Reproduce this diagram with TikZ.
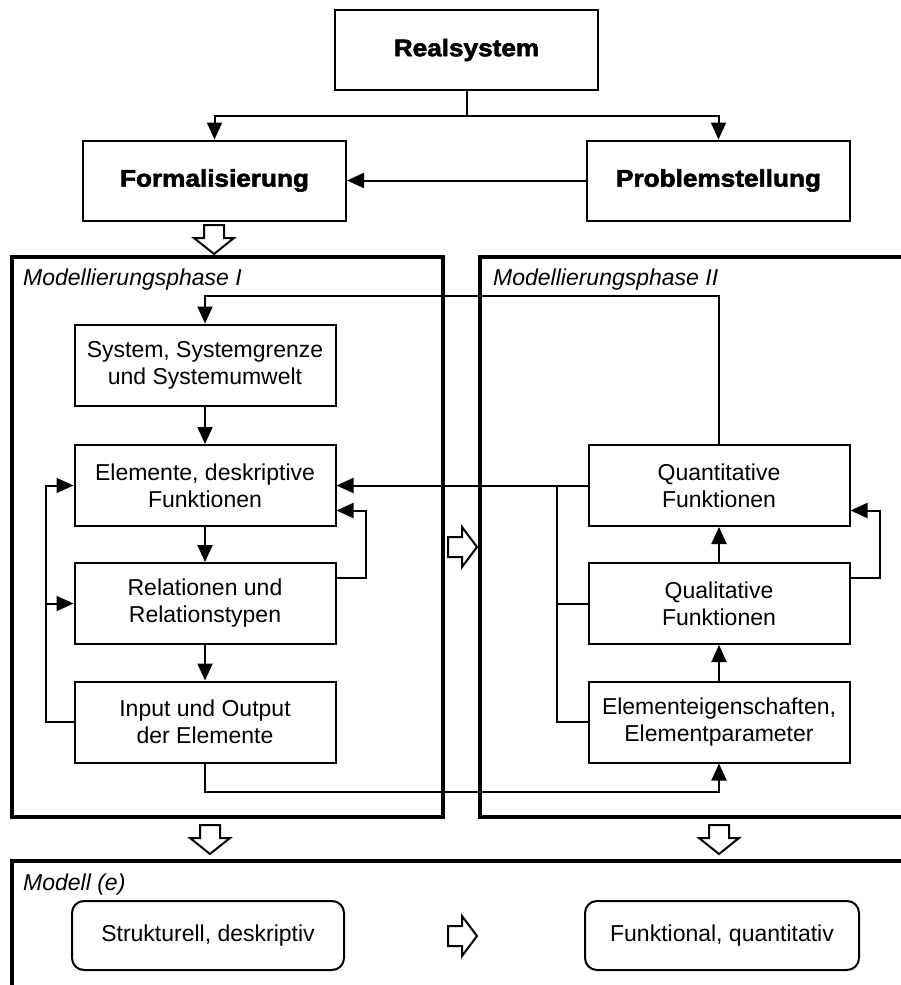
\documentclass[tikz,border=0pt]{standalone}
\usepackage{fontspec}
\setmainfont{Liberation Sans}
\newfontfamily\titlefont[FakeStretch=1.09,FakeBold=2.4]{Liberation Sans}
\usetikzlibrary{arrows.meta}
\begin{document}
\begin{tikzpicture}[x=1pt,y=-1pt,
  conn/.style={line width=2pt,-{Triangle[length=17pt,width=15pt]}},
  plain/.style={line width=2pt},
  titlebox/.style={draw,line width=2pt,inner sep=0pt,minimum width=263pt,minimum height=80pt,
    font=\titlefont\bfseries\fontsize{24}{28}\selectfont},
  stepbox/.style={draw,line width=2pt,inner sep=0pt,minimum width=261pt,minimum height=81pt,
    align=center,font=\fontsize{23}{27}\selectfont},
  modbox/.style={draw,line width=2pt,rounded corners=12pt,inner sep=0pt,minimum height=69pt,
    font=\fontsize{23}{27}\selectfont},
  phase/.style={line width=3.5pt},
  phaselabel/.style={anchor=base west,inner sep=0pt,font=\itshape\fontsize{23}{27}\selectfont},
  hollow/.style={draw,line width=2pt,fill=white,line join=miter},
  hdown/.pic={\path[hollow] (-10,0) -- (10,0) -- (10,13) -- (20,13) -- (0,29) -- (-20,13) -- (-10,13) -- cycle;},
  hright/.pic={\path[hollow] (0,-10) -- (14,-10) -- (14,-20) -- (29,0) -- (14,20) -- (14,10) -- (0,10) -- cycle;}
]
\useasboundingbox (0,0) rectangle (901,985);
\clip (0,0) rectangle (901,985);

% top level
\node[titlebox] (real) at (466.5,50) {Realsystem};
\node[titlebox] (form) at (214.5,180.5) {Formalisierung};
\node[titlebox] (prob) at (718.5,180.5) {Problemstellung};

\draw[plain] (real.south) -- ++(0,25) coordinate (split);
\draw[conn] (split) -| (form.north);
\draw[conn] (split) -| (prob.north);
\draw[conn] (prob.west) -- (form.east);

% phase frames
\draw[phase] (12,257) rectangle (443,817);
\draw[phase] (480,257) rectangle (960,817);
\draw[phase] (12,861) rectangle (960,1060);
\node[phaselabel] (lab1) at (23,285) {Modellierungsphase I};
\node[phaselabel] (lab2) at (493,285) {Modellierungsphase II};
\node[phaselabel] (lab3) at (23,890) {Modell (e)};

% phase I
\node[stepbox] (sys)  at (205,365)   {System, Systemgrenze\\und Systemumwelt};
\node[stepbox] (elem) at (205,485.5) {Elemente, deskriptive\\Funktionen};
\node[stepbox] (rel)  at (205,603.5) {Relationen und\\Relationstypen};
\node[stepbox] (inp)  at (205,722)   {Input und Output\\der Elemente};

% phase II
\node[stepbox] (quant) at (719,485.5) {Quantitative\\Funktionen};
\node[stepbox] (qual)  at (719,603.5) {Qualitative\\Funktionen};
\node[stepbox] (eig)   at (719,722)   {Elementeigenschaften,\\Elementparameter};

% models
\node[modbox,minimum width=272pt] (struk) at (208,935.5) {Strukturell, deskriptiv};
\node[modbox,minimum width=274pt] (funk)  at (722,935.5) {Funktional, quantitativ};

% flow inside phase I
\draw[conn] (sys) -- (elem);
\draw[conn] (elem) -- (rel);
\draw[conn] (rel) -- (inp);
\draw[conn] ([yshift=25.5pt]rel.east) -- ++(29,0) |- ([yshift=-25pt]elem.east);
\coordinate (loopL) at (46,485.5);
\draw[conn] (inp.west) -| (loopL) -- (elem.west);
\draw[conn] (rel.west -| loopL) -- (rel.west);

% flow inside phase II
\draw[conn] (eig) -- (qual);
\draw[conn] (qual) -- (quant);
\draw[conn] ([yshift=25.5pt]qual.east) -- ++(29,0) |- ([yshift=-25pt]quant.east);

% links between the phases
\coordinate (fbtop) at (460,296);
\draw[conn] (quant.north) |- (fbtop) -| (sys.north);
\draw[conn] (quant.west) -- (elem.east);
\coordinate (bus) at (557,485.5);
\draw[plain] (eig.west) -| (bus);
\draw[plain] (qual.west) -- (qual.west -| bus);
\draw[conn] (inp.south) -- ++(0,28) -| (eig.south);

% hollow block arrows
\pic at (214,225) {hdown};
\pic at (210,825) {hdown};
\pic at (719,825) {hdown};
\pic at (448,547) {hright};
\pic at (448,936) {hright};
\end{tikzpicture}
\end{document}
